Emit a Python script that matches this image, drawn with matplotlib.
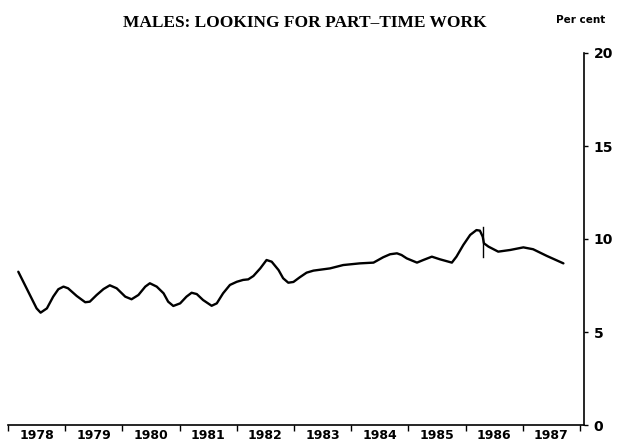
import matplotlib.pyplot as plt
import numpy as np

# series (year, per cent)
years = [1978.18, 1978.50, 1978.57, 1978.68, 1978.79, 1978.88, 1978.97, 1979.05,
         1979.20, 1979.35, 1979.43, 1979.55, 1979.67, 1979.78, 1979.90, 1980.05,
         1980.16, 1980.28, 1980.40, 1980.48, 1980.60, 1980.72, 1980.80, 1980.89,
         1981.01, 1981.12, 1981.21, 1981.30, 1981.41, 1981.56, 1981.65, 1981.76,
         1981.88, 1982.00, 1982.11, 1982.20, 1982.29, 1982.41, 1982.52, 1982.61,
         1982.73, 1982.81, 1982.90, 1982.99, 1983.10, 1983.22, 1983.34, 1983.63,
         1983.86, 1984.15, 1984.39, 1984.56, 1984.68, 1984.80, 1984.88, 1984.97,
         1985.15, 1985.26, 1985.41, 1985.55, 1985.76, 1985.84, 1985.96, 1986.08,
         1986.19, 1986.25, 1986.30, 1986.32, 1986.40, 1986.57, 1986.78, 1987.01,
         1987.18, 1987.42, 1987.71]
pct = [8.24, 6.27, 6.04, 6.27, 6.90, 7.30, 7.44, 7.35,
       6.94, 6.60, 6.63, 6.99, 7.31, 7.51, 7.35, 6.90,
       6.76, 6.99, 7.44, 7.62, 7.44, 7.08, 6.63, 6.40,
       6.54, 6.90, 7.11, 7.04, 6.72, 6.41, 6.54, 7.08,
       7.53, 7.70, 7.80, 7.83, 8.01, 8.42, 8.87, 8.78,
       8.33, 7.89, 7.65, 7.69, 7.94, 8.19, 8.30, 8.42,
       8.60, 8.69, 8.73, 9.02, 9.18, 9.23, 9.14, 8.96,
       8.73, 8.87, 9.05, 8.91, 8.73, 9.05, 9.68, 10.22,
       10.48, 10.45, 10.12, 9.77, 9.59, 9.32, 9.41, 9.55,
       9.45, 9.09, 8.69]

# series break marker
break_year = 1986.31
break_lo = 9.03
break_hi = 10.65

year_ticks = list(range(1978, 1989))
year_labels = [str(y) for y in range(1978, 1988)]
pct_ticks = [0, 5, 10, 15, 20]


def main():
    fig = plt.figure(figsize=(6.18, 4.44), dpi=100)
    ax = fig.add_axes([8 / 618, 19 / 444, 576 / 618, 372 / 444])

    ax.plot(years, pct, color='black', lw=1.7, solid_capstyle='round',
            solid_joinstyle='round')
    ax.plot([break_year, break_year], [break_lo, break_hi], color='black', lw=1.0)

    ax.set_xlim(1978, 1988.07)
    ax.set_ylim(0, 20)

    for s in ['top', 'left']:
        ax.spines[s].set_visible(False)
    ax.spines['bottom'].set_linewidth(1.2)
    ax.spines['right'].set_linewidth(1.2)

    ax.yaxis.tick_right()
    ax.set_yticks(pct_ticks)
    ax.set_yticklabels([str(t) for t in pct_ticks], fontsize=10, fontweight='bold')
    ax.tick_params(axis='y', direction='out', length=3, width=1, pad=4)

    ax.set_xticks(year_ticks)
    ax.set_xticklabels([])
    ax.set_xticks(np.arange(1978.5, 1988, 1.0), minor=True)
    ax.set_xticklabels(year_labels, minor=True, fontsize=9, fontweight='bold')
    ax.tick_params(axis='x', which='major', direction='out', length=4, width=1)
    ax.tick_params(axis='x', which='minor', length=0, pad=3)

    fig.text(305 / 618, 1 - 23 / 444, 'MALES: LOOKING FOR PART\u2013TIME WORK',
             family='Liberation Serif', fontweight='bold', fontsize=12.5,
             ha='center', va='center')
    fig.text(556 / 618, 1 - 20 / 444, 'Per cent', fontsize=7.5,
             fontweight='bold', ha='left', va='center')

    fig.savefig('out.png', dpi=100)


if __name__ == "__main__":
    main()
